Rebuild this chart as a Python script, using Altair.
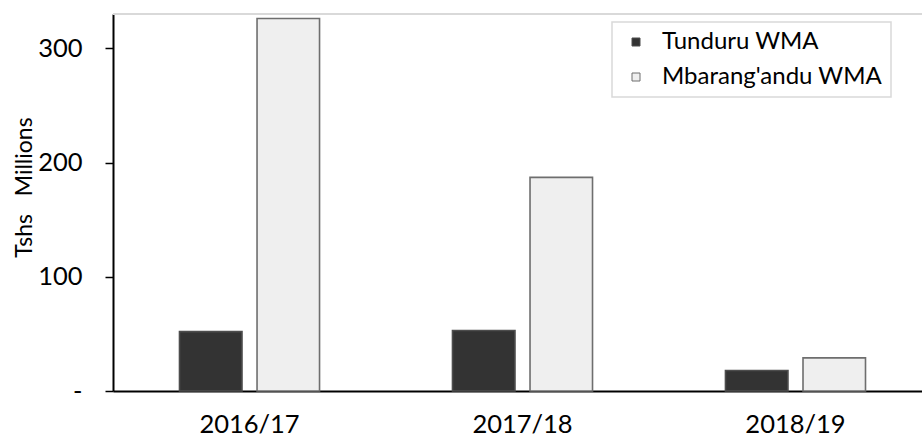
import altair as alt
import pandas as pd

# Revenue collected by two Wildlife Management Areas (Tshs, millions)
years = ["2016/17", "2017/18", "2018/19"]
series = ["Tunduru WMA", "Mbarang'andu WMA"]
tunduru = [52, 53, 18]
mbarangandu = [326, 187, 29]
y_ticks = [0, 100, 200, 300]

rows = []
for i, yr in enumerate(years):
    rows.append({"year": yr, "wma": series[0], "value": tunduru[i]})
    rows.append({"year": yr, "wma": series[1], "value": mbarangandu[i]})
df = pd.DataFrame(rows)

FONT = "Lato"
FS = 25.5
W, H = 809, 377
XRANGE = 819  # band range runs slightly past the visible right edge

bars = alt.Chart(df).mark_bar(strokeWidth=1.6).encode(
    x=alt.X(
        "year:N",
        sort=years,
        scale=alt.Scale(range=[0, XRANGE], paddingInner=0.487, paddingOuter=0.2436),
        axis=alt.Axis(
            title=None, labelAngle=0, ticks=False, domainColor="black", domainWidth=2,
            labelFont=FONT, labelFontSize=FS, labelColor="black",
            labelBaseline="middle", labelPadding=33,
        ),
    ),
    xOffset=alt.XOffset("wma:N", sort=series, scale=alt.Scale(paddingInner=0.194, paddingOuter=0)),
    y=alt.Y(
        "value:Q",
        scale=alt.Scale(domain=[0, 330], nice=False),
        axis=alt.Axis(
            values=y_ticks, grid=False, domainColor="black", domainWidth=2,
            tickColor="black", tickWidth=1.5, tickSize=8,
            labelFont=FONT, labelFontSize=FS, labelColor="black", labelPadding=23,
            labelExpr="datum.value == 0 ? '-' : datum.label",
            title="Tshs\u00a0\u00a0\u00a0Millions", titleFont=FONT, titleFontSize=23,
            titleFontWeight="normal", titleColor="black",
            titleX=-89, titleY=173, titleAlign="center", titleBaseline="middle",
        ),
    ),
    fill=alt.Fill(
        "wma:N", sort=series,
        scale=alt.Scale(domain=series, range=["#333333", "#efefef"]),
        legend=alt.Legend(
            title=None, orient="none", legendX=499, legendY=8,
            fillColor="white", strokeColor="#d9d9d9", padding=8,
            symbolType="square", symbolSize=64, symbolStrokeColor="#555555",
            symbolStrokeWidth=1, symbolOffset=4, labelFont=FONT, labelFontSize=24,
            labelColor="black", labelOffset=14, rowPadding=11, labelLimit=400,
        ),
    ),
    stroke=alt.Stroke(
        "wma:N", sort=series,
        scale=alt.Scale(domain=series, range=["#4d4d4d", "#6e6e6e"]),
        legend=None,
    ),
)

# light frame line along the top of the plot
top_line = alt.Chart(df).mark_rule(color="#d9d9d9", strokeWidth=2).encode(
    y=alt.datum(330)
)

chart = alt.layer(top_line, bars).properties(
    width=W, height=H,
    autosize=alt.AutoSizeParams(type="none"),
    padding={"left": 113, "top": 14, "right": 0, "bottom": 46},
).configure_view(stroke=None).configure_legend(strokeWidth=1.5)

chart.save("out.html", embed_options={"renderer": "svg", "actions": False})
